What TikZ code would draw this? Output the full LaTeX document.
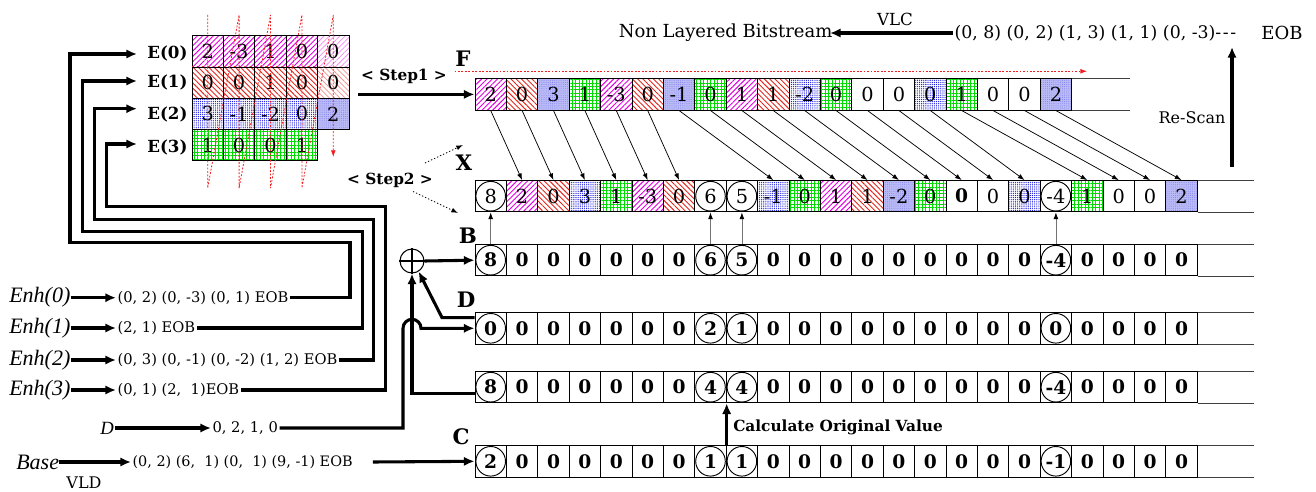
\documentclass[tikz,border=0pt]{standalone}
\usepackage{fontspec}
\setmainfont{DejaVu Serif}
\newfontfamily\timesfont{Liberation Serif}
\usetikzlibrary{arrows.meta,patterns.meta}
\definecolor{hmag}{RGB}{225,0,225}
\definecolor{hred}{RGB}{225,40,30}
\definecolor{hblue}{RGB}{25,25,225}
\definecolor{hgreen}{RGB}{0,220,0}
\definecolor{hscan}{RGB}{240,30,30}

\tikzset{
  cell/.style={draw=black, line width=0.7pt, minimum width=23.55pt, minimum height=23.5pt,
    inner sep=0pt, font=\fontsize{14.5}{14.5}\selectfont},
  bcell/.style={cell, font=\fontsize{14}{14}\selectfont\bfseries},
  wt/.style={},
  wb/.style={font=\fontsize{14}{14}\selectfont\bfseries},
  mg/.style={pattern={Lines[angle=45,distance=2.8pt,line width=0.7pt]}, pattern color=hmag},
  mgl/.style={pattern={Lines[angle=45,distance=2.8pt,line width=0.55pt]}, pattern color=hmag!45},
  rd/.style={pattern={Lines[angle=-45,distance=2.8pt,line width=0.7pt]}, pattern color=hred},
  rdl/.style={pattern={Lines[angle=-45,distance=2.8pt,line width=0.55pt]}, pattern color=hred!50},
  bl/.style={pattern={Dots[distance=1.6pt,radius=0.5pt]}, pattern color=hblue},
  bll/.style={preaction={fill=hblue!30}, pattern={Dots[distance=1.6pt,radius=0.32pt]}, pattern color=hblue!60},
  gr/.style={pattern={Hatch[angle=0,distance=2.6pt,line width=0.55pt]}, pattern color=hgreen},
  ring/.style={path picture={\draw[line width=0.7pt] (path picture bounding box.center) circle[radius=11.1pt];}},
  rowline/.style={draw=black!75, line width=0.8pt},
  thk/.style={line width=2.3pt, -{Latex[length=8pt,width=7pt]}},
  thn/.style={line width=0.55pt, -{Latex[length=5pt,width=3.6pt]}},
  upthn/.style={draw=black!55, line width=0.6pt, -{Latex[length=5pt,width=3.6pt,black]}},
  scan/.style={draw=hscan, line width=0.6pt, dash pattern=on 1.4pt off 1.2pt},
  dotarr/.style={line width=0.6pt, dash pattern=on 1pt off 1.5pt, -{Latex[length=5pt,width=3.6pt]}},
  elab/.style={font=\fontsize{12.5}{12.5}\selectfont\bfseries, inner sep=1pt},
  rowlab/.style={font=\fontsize{16}{16}\selectfont\bfseries, inner sep=0pt},
  steplab/.style={font=\fontsize{11.5}{11.5}\selectfont\bfseries, inner sep=1pt},
  seq/.style={font=\fontsize{11}{11}\selectfont, inner sep=1pt},
  itl/.style={font=\fontsize{16.5}{16.5}\timesfont\itshape, inner sep=0pt},
}

\begin{document}
\begin{tikzpicture}[x=0.75pt,y=-0.75pt]
\useasboundingbox (0,0) rectangle (1316,492);

% ---- layer matrix E(0)..E(3)
\foreach \val/\sty [count=\i] in {2/mg,-3/mg,1/mg,0/mg,0/mgl}
  \node[cell,\sty] (M-1-\i) at ({192+31.4*(\i-0.5)},51.35) {\val};
\foreach \val/\sty [count=\i] in {0/rd,0/rd,1/rd,0/rd,0/rdl}
  \node[cell,\sty] (M-2-\i) at ({192+31.4*(\i-0.5)},82.65) {\val};
\foreach \val/\sty [count=\i] in {3/bl,-1/bl,-2/bl,0/bl,2/bll}
  \node[cell,\sty] (M-3-\i) at ({192+31.4*(\i-0.5)},113.95) {\val};
\foreach \val/\sty [count=\i] in {1/gr,0/gr,0/gr,1/gr}
  \node[cell,\sty] (M-4-\i) at ({192+31.4*(\i-0.5)},145.25) {\val};

\node[elab,anchor=east] (E0) at (189,53) {E(0)};
\node[elab,anchor=east] (E1) at (189,82) {E(1)};
\node[elab,anchor=east] (E2) at (189,114) {E(2)};
\node[elab,anchor=east] (E3) at (189,147) {E(3)};

% column-wise scan through the matrix
\draw[scan, -{Latex[length=5pt,width=3.6pt]}]
  (M-1-1 |- 0,15) -- (M-1-1 |- 0,188) -- (M-1-2 |- 0,15) -- (M-1-2 |- 0,188)
  -- (M-1-3 |- 0,15) -- (M-1-3 |- 0,188) -- (M-1-4 |- 0,15) -- (M-1-4 |- 0,188)
  -- (M-1-5 |- 0,15) -- (M-1-5 |- 0,157);

% ---- row F (scanned coefficients)
\foreach \val/\sty [count=\i] in {2/mg,0/rd,3/bll,1/gr,-3/mg,0/rd,-1/bll,0/gr,1/mg,1/rd,-2/bl,0/gr,0/wt,0/wt,0/bl,1/gr,0/wt,0/wt,2/bll}
  \node[cell,\sty] (F-\i) at ({475+31.4*(\i-0.5)},94.4) {\val};
\draw[rowline] (F-19.north east) -- ++(58,0) (F-19.south east) -- ++(58,0);
\node[rowlab] (Flab) at (463,59) {F};
\draw[scan, -{Latex[length=5pt,width=3.6pt]}] ([shift={(-20,-7)}]F-1.north west) -- ([shift={(15,-7)}]F-19.north east);

% ---- row X (merged coefficients)
\foreach \val/\sty [count=\i] in {8/ring,2/mg,0/rd,3/bl,1/gr,-3/mg,0/rd,6/ring,5/ring,-1/bl,0/gr,1/mg,1/rd,-2/bll,0/gr,0/wb,0/wt,0/bl,-4/ring,1/gr,0/wt,0/wt,2/bll}
  \node[cell,\sty] (X-\i) at ({475+31.4*(\i-0.5)},196.2) {\val};
\draw[rowline] (X-23.north east) -- ++(56,0) (X-23.south east) -- ++(56,0);
\node[rowlab] (Xlab) at (464,163) {X};

% ---- rows B, D, (sum) and C
\foreach \r/\pa/\pb/\pc/\pd/\yy in {B/8/6/5/-4/260.2, D/0/2/1/0/328.3, P/8/4/4/-4/387.2, C/2/1/1/-1/461.3}{
  \foreach \i in {1,...,23}{
    \ifnum\i=1 \edef\val{\pa}\def\sty{ring}\else
    \ifnum\i=8 \edef\val{\pb}\def\sty{ring}\else
    \ifnum\i=9 \edef\val{\pc}\def\sty{ring}\else
    \ifnum\i=19 \edef\val{\pd}\def\sty{ring}\else
    \def\val{0}\def\sty{wt}\fi\fi\fi\fi
    \node[bcell,\sty] (\r-\i) at ({475+31.4*(\i-0.5)},\yy) {\val};
  }
  \draw[rowline] (\r-23.north east) -- ++(56,0) (\r-23.south east) -- ++(56,0);
}
\node[rowlab] (Blab) at (468,236) {B};
\node[rowlab] (Dlab) at (466,300) {D};
\node[rowlab] (Clab) at (461,437) {C};

% ---- connectors F -> X
\foreach \a/\b in {1/2,2/3,3/4,4/5,5/6,6/7,7/10,8/11,9/12,10/13,11/14,12/15,13/16,14/17,15/18,16/20,17/21,18/22,19/23}
  \draw[thn] (F-\a.south) -- (X-\b.north);
% ---- connectors B -> X
\foreach \i in {1,8,9,19}
  \draw[upthn] (B-\i.north) -- (X-\i.south);

% ---- steps
\node[steplab] (st1) at (404,76) {< Step1 >};
\coordinate (s1) at (358,94.4);
\draw[thk] (s1) -- (F-1.west);
\node[steplab] (st2) at (390,180) {< Step2 >};
\coordinate (s2a) at (425,163);
\coordinate (s2b) at (463,145);
\coordinate (s2c) at (413,191.5);
\coordinate (s2d) at (458,213);
\draw[dotarr] (s2a) -- (s2b);
\draw[dotarr] (s2c) -- (s2d);

% ---- top: re-scan and VLC
\node[font=\fontsize{13.5}{14}\selectfont, anchor=east, inner sep=1pt] (nlb) at (834,33) {Non Layered Bitstream};
\node[font=\fontsize{13}{14}\selectfont, anchor=west, inner sep=1pt] (vseq) at (953,33) {(0, 8) (0, 2) (1, 3) (1, 1) (0, -3)-\kern1.2pt-\kern1.2pt-};
\node[font=\fontsize{13.5}{14}\selectfont] (eobtop) at (1282,33) {EOB};
\node[font=\fontsize{12.5}{12.5}\selectfont] (vlc) at (895,19) {VLC};
\draw[thk] (vseq.west) -- ([xshift=-3pt]nlb.east);
\node[font=\fontsize{12}{12}\selectfont] (rs) at (1192,118) {Re-Scan};
\coordinate (rsa) at (1232,167);
\coordinate (rsb) at (1232,47);
\draw[thk] (rsa) -- (rsb);

% ---- calculate original value
\draw[thk] (C-8.north east) -- (P-8.south east);
\node[font=\fontsize{11.5}{12}\selectfont\bfseries, anchor=west, inner sep=0pt] (calc) at (733,427) {Calculate Original Value};

% ---- adder
\node[draw, circle, minimum size=18pt, inner sep=0pt, line width=0.8pt] (sum) at (412,261) {};
\draw[line width=0.8pt] (sum.north) -- (sum.south) (sum.west) -- (sum.east);
\draw[thk] (sum.east) -- (B-1.west);
\draw[thk] ([yshift=-5pt]P-1.west) -| (sum.south);
\draw[thk] ([yshift=8pt]D-1.west) -- (442,317.6) -- (sum.-58);

% ---- enhancement layers
\node[itl, anchor=west] (h0) at (9,297.7) {Enh(0)};
\node[itl, anchor=west] (h1) at (9,328) {Enh(1)};
\node[itl, anchor=west] (h2) at (9,360) {Enh(2)};
\node[itl, anchor=west] (h3) at (9,390) {Enh(3)};
\node[seq, anchor=west] (t0) at (116,297.7) {(0, 2) (0, -3) (0, 1) EOB};
\node[seq, anchor=west] (t1) at (116,328) {(2, 1) EOB};
\node[seq, anchor=west] (t2) at (116,360) {(0, 3) (0, -1) (0, -2) (1, 2) EOB};
\node[seq, anchor=west] (t3) at (116,390) {(0, 1) (2,\ \ 1)EOB};
\foreach \k in {0,1,2,3}
  \draw[thk] (h\k.east) -- (t\k.west);

\coordinate (e0) at (137,54);
\coordinate (e1) at (137,81);
\coordinate (e2) at (137,108.7);
\coordinate (e3) at (137,144);
\draw[thk] (t0.east) -- (350,297.7) -- (350,242.7) -- (70,242.7) |- (e0);
\draw[thk] (t1.east) -- (362.7,328) -- (362.7,231.7) -- (82.7,231.7) |- (e1);
\draw[thk] (t2.east) -- (373.3,360) -- (373.3,219.3) -- (94.7,219.3) |- (e2);
\draw[thk] (t3.east) -- (385.7,390) -- (385.7,206.7) -- (106.7,206.7) |- (e3);

% ---- difference values D
\node[font=\fontsize{14}{14}\timesfont\itshape, inner sep=1pt] (dl) at (107,428) {D};
\node[seq, anchor=west] (dv) at (211,428) {0, 2, 1, 0};
\draw[thk] (dl.east) -- (dv.west);
\draw[thk] (dv.east) -- (403,428) -- (403,328.3) arc[start angle=180,end angle=0,radius=6.75pt] -- (D-1.west);

% ---- base layer
\node[itl, anchor=west] (base) at (16,462) {Base};
\node[seq, font=\fontsize{10.8}{11}\selectfont, anchor=west] (bt) at (131,462) {(0, 2) (6,\ \ 1) (0,\ \ 1) (9, -1) EOB};
\node[font=\fontsize{12}{12}\selectfont] (vld) at (84,483) {VLD};
\draw[thk] (base.east) -- (bt.west);
\draw[thk] ([xshift=14pt]bt.east) -- (C-1.west);
\end{tikzpicture}
\end{document}
